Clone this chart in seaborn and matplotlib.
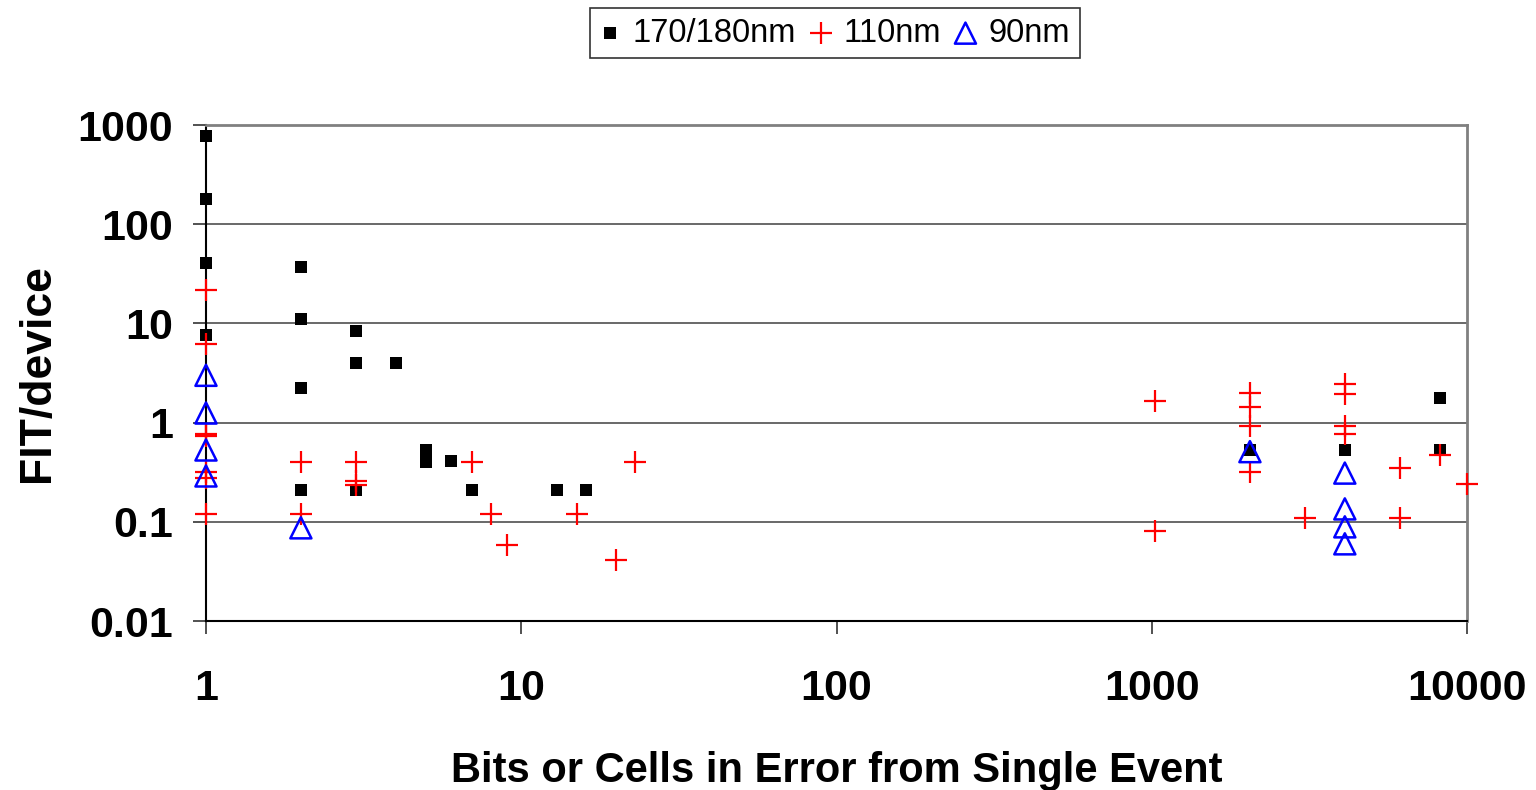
import pandas as pd
import numpy as np
import seaborn as sns
from matplotlib import pyplot as plt
import matplotlib.ticker as mtick

# bits in error vs FIT/device
nm180_x = [1, 1, 1, 1, 2, 2, 2, 2, 3, 3, 3, 4, 5, 5, 6, 7, 13, 16, 2048, 4096, 8192, 8192]
nm180_y = [770, 178, 41, 7.6, 37, 11, 2.25, 0.21, 8.4, 4.0, 0.21, 4.0, 0.53, 0.40, 0.41, 0.21, 0.21, 0.21,
           0.53, 0.53, 1.78, 0.53]

nm110_x = [1, 1, 1, 1, 1, 1, 1, 2, 2, 3, 3, 3, 7, 8, 9, 15, 20, 23,
           1024, 1024, 2048, 2048, 2048, 2048, 3072, 4096, 4096, 4096, 4096, 6144, 6144, 8192, 10000]
nm110_y = [21.6, 6.2, 0.76, 0.73, 0.32, 0.275, 0.12, 0.40, 0.12, 0.40, 0.26, 0.235, 0.40, 0.12, 0.058, 0.12,
           0.041, 0.40, 1.65, 0.081, 1.99, 1.43, 0.92, 0.32, 0.11, 2.43, 1.93, 0.92, 0.76, 0.35, 0.11, 0.47, 0.24]

nm90_x = [1, 1, 1, 1, 2, 2048, 4096, 4096, 4096, 4096]
nm90_y = [3.0, 1.25, 0.53, 0.29, 0.087, 0.51, 0.31, 0.135, 0.089, 0.060]

df180 = pd.DataFrame({'bits': nm180_x, 'fit': nm180_y})
df110 = pd.DataFrame({'bits': nm110_x, 'fit': nm110_y})
df90 = pd.DataFrame({'bits': nm90_x, 'fit': nm90_y})

sns.set_style('white')
plt.rcParams['font.family'] = ['Liberation Sans', 'DejaVu Sans']
plt.rcParams['text.color'] = 'black'
plt.rcParams['axes.labelcolor'] = 'black'
plt.rcParams['xtick.color'] = 'black'
plt.rcParams['ytick.color'] = 'black'

fig = plt.figure(figsize=(15.36, 7.9), dpi=100)
ax = fig.add_axes([0.1341, 0.2139, 0.821, 0.6278])

sns.scatterplot(data=df180, x='bits', y='fit', marker='s', s=74, color='black', edgecolor='black',
                linewidth=0, label='170/180nm', ax=ax, zorder=3)
sns.scatterplot(data=df110, x='bits', y='fit', marker='+', s=240, color='red', linewidth=1.6,
                label='110nm', ax=ax, zorder=4)
sns.scatterplot(data=df90, x='bits', y='fit', marker='^', s=230, color='blue', linewidth=1.8,
                label='90nm', ax=ax, zorder=5)
for coll in ax.collections:
    coll.set_clip_on(False)
ax.collections[2].set_facecolor('none')
ax.collections[2].set_edgecolor('blue')

ax.set_xscale('log')
ax.set_yscale('log')
ax.set_xlim(1, 10000)
ax.set_ylim(0.01, 1000)

ax.xaxis.set_major_locator(mtick.LogLocator(base=10, numticks=10))
ax.yaxis.set_major_locator(mtick.LogLocator(base=10, numticks=10))
ax.xaxis.set_minor_locator(mtick.NullLocator())
ax.yaxis.set_minor_locator(mtick.NullLocator())
ax.xaxis.set_major_formatter(mtick.FuncFormatter(lambda v, p: f'{v:g}'))
ax.yaxis.set_major_formatter(mtick.FuncFormatter(lambda v, p: f'{v:g}'))

ax.yaxis.grid(True, color='#404040', linewidth=1.1)
ax.xaxis.grid(False)
ax.set_axisbelow(True)

for side in ['top', 'right']:
    ax.spines[side].set_color('#808080')
    ax.spines[side].set_linewidth(2)
for side in ['left', 'bottom']:
    ax.spines[side].set_color('black')
    ax.spines[side].set_linewidth(1.5)

ax.tick_params(axis='both', which='major', direction='out', length=9.5, width=1.2, color='#333333',
               labelsize=31, labelcolor='black', bottom=True, left=True)
ax.tick_params(axis='x', pad=25)
ax.tick_params(axis='y', pad=14)
for lab in ax.get_xticklabels() + ax.get_yticklabels():
    lab.set_fontweight('bold')

ax.set_xlabel('Bits or Cells in Error from Single Event', fontsize=30, fontweight='bold', labelpad=30,
              color='black')
ax.set_ylabel('FIT/device', fontsize=32, fontweight='bold', labelpad=14, color='black')

leg = ax.legend(loc='upper center', bbox_to_anchor=(0.5436, 0.99), bbox_transform=fig.transFigure,
                ncol=3, fontsize=23.5, frameon=True, fancybox=False, edgecolor='black',
                handlelength=0.6, handletextpad=0.4, columnspacing=0.45, borderpad=0.3, borderaxespad=0)
leg.get_frame().set_linewidth(1.2)
for txt in leg.get_texts():
    txt.set_color('black')

fig.savefig('out.png', dpi=100)
